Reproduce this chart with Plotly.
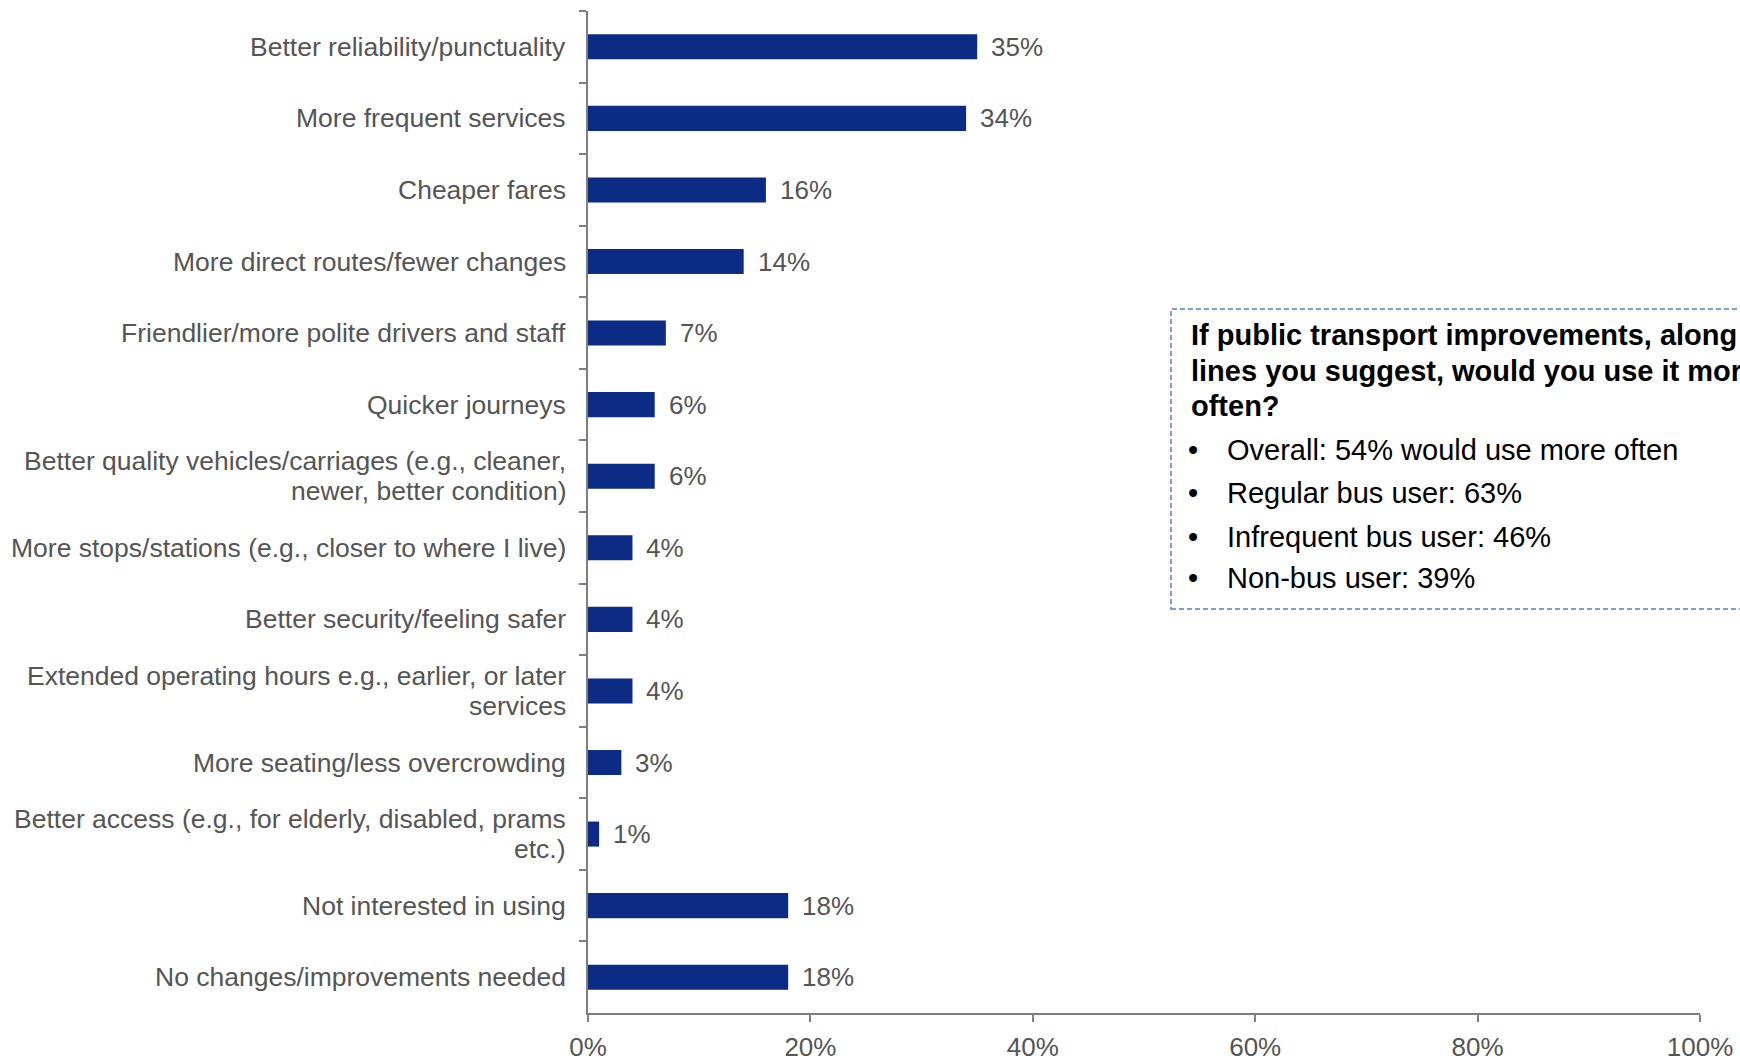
import plotly.graph_objects as go

# Survey responses: suggested improvements to public transport (% of respondents)
categories = [
    "Better reliability/punctuality",
    "More frequent services",
    "Cheaper fares",
    "More direct routes/fewer changes",
    "Friendlier/more polite drivers and staff",
    "Quicker journeys",
    "Better quality vehicles/carriages (e.g., cleaner,<br>newer, better condition)",
    "More stops/stations (e.g., closer to where I live)",
    "Better security/feeling safer",
    "Extended operating hours e.g., earlier, or later<br>services",
    "More seating/less overcrowding",
    "Better access (e.g., for elderly, disabled, prams<br>etc.)",
    "Not interested in using",
    "No changes/improvements needed",
]
values = [35, 34, 16, 14, 7, 6, 6, 4, 4, 4, 3, 1, 18, 18]
x_ticks = [0, 20, 40, 60, 80, 100]
x_tick_labels = [f"{v}%" for v in x_ticks]

box_title = [
    "If public transport improvements, along the",
    "lines you suggest, would you use it more",
    "often?",
]
box_bullets = [
    "Overall: 54% would use more often",
    "Regular bus user: 63%",
    "Infrequent bus user: 46%",
    "Non-bus user: 39%",
]

W, H = 1740, 1061
M_L, M_R, M_T, M_B = 588, 40, 11, 48
PLOT_W = W - M_L - M_R
PLOT_H = H - M_T - M_B

FONT = "Liberation Sans, Arial, sans-serif"
BAR = "#0b2b84"
AXIS = "#7f7f7f"
LABEL = "#555555"


def px_x(px):
    return (px - M_L) / PLOT_W


def px_y(py):
    return (H - M_B - py) / PLOT_H


fig = go.Figure(
    go.Bar(
        x=values,
        y=categories,
        orientation="h",
        marker=dict(color=BAR, line=dict(width=0)),
        width=0.35,
        hoverinfo="skip",
    )
)

annotations = []

# Category labels (multi-line labels are centred line by line)
line_gap = 30
for cat in categories:
    lines = cat.split("<br>")
    n = len(lines)
    for i, ln in enumerate(lines):
        offset = ((n - 1) / 2 - i) * line_gap
        annotations.append(dict(
            x=0, xref="paper", y=cat, yref="y",
            xanchor="right", yanchor="middle", xshift=-20, yshift=offset,
            text=ln, showarrow=False, align="center",
            font=dict(family=FONT, size=26.5, color=LABEL),
        ))

# Value labels beside each bar
for cat, v in zip(categories, values):
    annotations.append(dict(
        x=v, xref="x", y=cat, yref="y",
        xanchor="left", yanchor="middle", xshift=12,
        text=f"{v}%", showarrow=False,
        font=dict(family=FONT, size=26, color=LABEL),
    ))

# Side note box: question and results
title_mid = [334.6, 371.3, 405.6]
for t, py in zip(box_title, title_mid):
    annotations.append(dict(
        x=px_x(1189), xref="paper", y=px_y(py), yref="paper",
        xanchor="left", yanchor="middle",
        text=f"<b>{t}</b>", showarrow=False, align="left",
        font=dict(family=FONT, size=29, color="#000000"),
    ))

bullet_mid = [449.6, 492.6, 536.6, 577.6]
for t, py in zip(box_bullets, bullet_mid):
    annotations.append(dict(
        x=px_x(1193), xref="paper", y=px_y(py), yref="paper",
        xanchor="center", yanchor="middle",
        text="•", showarrow=False,
        font=dict(family=FONT, size=29, color="#000000"),
    ))
    annotations.append(dict(
        x=px_x(1225), xref="paper", y=px_y(py), yref="paper",
        xanchor="left", yanchor="middle",
        text=t, showarrow=False, align="left",
        font=dict(family=FONT, size=29, color="#000000"),
    ))

shapes = [dict(
    type="rect", xref="paper", yref="paper",
    x0=px_x(1171), x1=px_x(1760), y0=px_y(609), y1=px_y(309),
    line=dict(color="#4f81bd", width=1.5, dash="5px,3px"),
    fillcolor="rgba(0,0,0,0)", layer="above",
)]

fig.update_layout(
    width=W, height=H, autosize=False,
    margin=dict(l=M_L, r=M_R, t=M_T, b=M_B, pad=0, autoexpand=False),
    plot_bgcolor="white", paper_bgcolor="white",
    showlegend=False,
    annotations=annotations,
    shapes=shapes,
    xaxis=dict(
        range=[0, 100], tickmode="array", tickvals=x_ticks, ticktext=x_tick_labels,
        showgrid=False, zeroline=False, automargin=False,
        showline=True, linecolor=AXIS, linewidth=2,
        ticks="outside", ticklen=7, tickwidth=2, tickcolor=AXIS,
        ticklabelstandoff=3,
        tickfont=dict(family=FONT, size=26, color=LABEL),
        fixedrange=True,
    ),
    yaxis=dict(
        type="category", categoryorder="array", categoryarray=categories,
        range=[len(categories) - 0.5, -0.5], automargin=False,
        showticklabels=False, showgrid=False, zeroline=False,
        showline=True, linecolor=AXIS, linewidth=2,
        ticks="outside", ticklen=7, tickwidth=2, tickcolor=AXIS,
        tickson="boundaries",
        fixedrange=True,
    ),
)

fig.write_html("out.html", config={"displayModeBar": False})
